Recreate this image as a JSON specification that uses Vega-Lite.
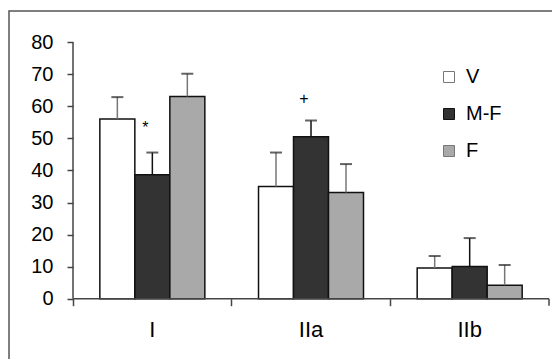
{
  "$schema": "https://vega.github.io/schema/vega-lite/v6.json",
  "autosize": {"type": "none"},
  "padding": {"left": 9, "top": 11, "right": -5, "bottom": -5},
  "width": 548,
  "height": 353,
  "background": "white",
  "config": {
    "view": {"stroke": "#555555", "strokeWidth": 1.5},
    "font": "Liberation Sans"
  },
  "datasets": {
    "bars": [
      {"cat": "I", "series": "V", "value": 56.1, "hi": 62.9},
      {"cat": "I", "series": "M-F", "value": 38.7, "hi": 45.6},
      {"cat": "I", "series": "F", "value": 63.1, "hi": 70.2},
      {"cat": "IIa", "series": "V", "value": 35.0, "hi": 45.6},
      {"cat": "IIa", "series": "M-F", "value": 50.5, "hi": 55.6},
      {"cat": "IIa", "series": "F", "value": 33.1, "hi": 42.0},
      {"cat": "IIb", "series": "V", "value": 9.6, "hi": 13.3},
      {"cat": "IIb", "series": "M-F", "value": 10.0, "hi": 18.9},
      {"cat": "IIb", "series": "F", "value": 4.2, "hi": 10.5}
    ],
    "notes": [
      {"cat": "I", "series": "M-F", "y": 53.3, "label": "*"},
      {"cat": "IIa", "series": "M-F", "y": 62.4, "label": "+"}
    ]
  },
  "encoding": {
    "x": {
      "field": "cat",
      "type": "nominal",
      "sort": ["I", "IIa", "IIb"],
      "scale": {"domain": ["I", "IIa", "IIb"], "paddingInner": 0, "paddingOuter": 0.2269, "align": 0.889},
      "axis": {
        "title": null,
        "orient": "bottom",
        "offset": -65.3,
        "domain": false,
        "bandPosition": 0,
        "tickSize": 7,
        "tickColor": "#444444",
        "tickWidth": 1.5,
        "labelAngle": 0,
        "labelFontSize": 22,
        "labelColor": "#000000",
        "labelPadding": 14
      }
    }
  },
  "layer": [
    {
      "data": {"name": "bars"},
      "mark": {"type": "bar", "stroke": "#111111", "strokeWidth": 1.5},
      "encoding": {
        "xOffset": {"field": "series", "type": "nominal", "sort": ["V", "M-F", "F"], "scale": {"domain": ["V", "M-F", "F"], "paddingInner": 0, "paddingOuter": 0.767}},
        "y": {
          "field": "value",
          "type": "quantitative",
          "scale": {"domain": [-20.4, 89.78], "nice": false, "zero": false},
          "axis": {
            "title": null,
            "orient": "left",
            "offset": -64,
            "domain": false,
            "grid": false,
            "values": [0, 10, 20, 30, 40, 50, 60, 70, 80],
            "tickSize": 6,
            "tickColor": "#444444",
            "tickWidth": 1.5,
            "labelFontSize": 20,
            "labelColor": "#000000",
            "labelPadding": 14
          }
        },
        "fill": {
          "field": "series",
          "type": "nominal",
          "scale": {"domain": ["V", "M-F", "F"], "range": ["#ffffff", "#333333", "#a9a9a9"]},
          "legend": {
            "title": null,
            "orient": "none",
            "legendX": 430,
            "legendY": 56,
            "padding": 0,
            "symbolType": "square",
            "symbolSize": 121,
            "symbolStrokeColor": "#222222",
            "symbolStrokeWidth": 1,
            "labelFontSize": 20,
            "labelColor": "#000000",
            "labelOffset": 7,
            "rowPadding": 17
          }
        }
      }
    },
    {
      "data": {"name": "bars"},
      "mark": {"type": "rule", "strokeWidth": 1.5},
      "encoding": {
        "xOffset": {"field": "series", "type": "nominal", "sort": ["V", "M-F", "F"]},
        "y": {"field": "value", "type": "quantitative"},
        "y2": {"field": "hi"},
        "stroke": {"field": "series", "type": "nominal", "scale": {"domain": ["V", "M-F", "F"], "range": ["#777777", "#111111", "#777777"]}, "legend": null}
      }
    },
    {
      "data": {"name": "bars"},
      "mark": {"type": "tick", "size": 12, "thickness": 2},
      "encoding": {
        "xOffset": {"field": "series", "type": "nominal", "sort": ["V", "M-F", "F"]},
        "y": {"field": "hi", "type": "quantitative"},
        "color": {"value": "#222222"}
      }
    },
    {
      "data": {"name": "notes"},
      "mark": {"type": "text", "fontSize": 16, "dx": -7, "baseline": "middle", "fill": "#000000"},
      "encoding": {
        "xOffset": {"field": "series", "type": "nominal", "sort": ["V", "M-F", "F"]},
        "y": {"field": "y", "type": "quantitative"},
        "text": {"field": "label"},
        "color": {"value": "#000000"}
      }
    },
    {
      "data": {"values": [{"a": 1}]},
      "mark": {"type": "rule", "stroke": "#444444", "strokeWidth": 1.5},
      "encoding": {
        "x": {"datum": "I", "bandPosition": 0},
        "y": {"datum": 0},
        "y2": {"datum": 80}
      }
    },
    {
      "data": {"values": [{"a": 1}]},
      "mark": {"type": "rule", "stroke": "#444444", "strokeWidth": 1.5},
      "encoding": {
        "x": {"datum": "I", "bandPosition": 0},
        "x2": {"datum": "IIb", "bandPosition": 1},
        "y": {"datum": 0}
      }
    },
    {
      "data": {"values": [{"a": 1}]},
      "mark": {"type": "rule", "stroke": "#444444", "strokeWidth": 1.5},
      "encoding": {
        "x": {"datum": "IIb", "bandPosition": 1},
        "y": {"datum": 0},
        "y2": {"datum": -2.2}
      }
    }
  ]
}
